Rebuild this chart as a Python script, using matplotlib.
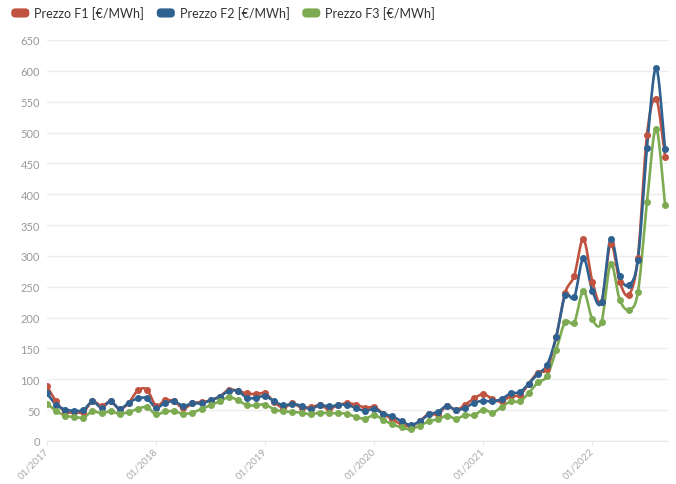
import numpy as np
import pandas as pd
import matplotlib
matplotlib.use("Agg")
import matplotlib.pyplot as plt
from matplotlib.patches import FancyBboxPatch, Patch
from matplotlib.legend_handler import HandlerPatch

# monthly data, 01/2017 - 09/2022
months = pd.date_range("2017-01-01", "2022-09-01", freq="MS")

prezzo_f1 = [89, 64, 47, 47, 47, 64, 57, 64, 52, 62, 82, 83,
             57, 66, 64, 53, 61, 63, 66, 72, 83, 81, 77, 76,
             77, 63, 54, 61, 54, 55, 58, 52, 58, 61, 59, 54,
             55, 44, 35, 27, 24, 32, 44, 43, 57, 50, 59, 69,
             76, 68, 64, 73, 74, 93, 111, 117, 168, 240, 268, 327,
             258, 225, 320, 258, 237, 297, 496, 555, 461]
prezzo_f2 = [77, 59, 51, 49, 50, 64, 54, 64, 52, 62, 69, 69,
             54, 62, 64, 57, 61, 61, 66, 72, 81, 81, 70, 70,
             73, 64, 58, 60, 57, 52, 58, 56, 58, 59, 53, 49,
             52, 44, 40, 32, 26, 32, 43, 47, 57, 50, 54, 62,
             65, 64, 68, 77, 79, 93, 109, 123, 168, 236, 233, 296,
             243, 225, 328, 267, 253, 294, 475, 604, 473]
prezzo_f3 = [60, 49, 41, 39, 38, 48, 45, 48, 44, 47, 52, 55,
             43, 48, 48, 44, 46, 52, 58, 64, 71, 66, 58, 58,
             59, 51, 48, 47, 46, 43, 46, 45, 45, 44, 39, 36,
             42, 34, 27, 22, 19, 25, 32, 35, 41, 36, 42, 42,
             51, 46, 55, 64, 64, 78, 95, 105, 147, 193, 192, 243,
             197, 193, 287, 229, 213, 241, 387, 506, 383]

series = [
    ("Prezzo F1 [€/MWh]", prezzo_f1, "#c0533f"),
    ("Prezzo F2 [€/MWh]", prezzo_f2, "#2f6190"),
    ("Prezzo F3 [€/MWh]", prezzo_f3, "#7dab52"),
]

plt.rcParams["font.family"] = ["Lato", "DejaVu Sans"]


def smooth(x, y, n=12):
    # cubic hermite through the points, catmull-rom tangents
    x = np.asarray(x, float)
    y = np.asarray(y, float)
    m = np.zeros_like(y)
    m[1:-1] = (y[2:] - y[:-2]) / (x[2:] - x[:-2])
    m[0] = (y[1] - y[0]) / (x[1] - x[0])
    m[-1] = (y[-1] - y[-2]) / (x[-1] - x[-2])
    xs, ys = [], []
    for i in range(len(x) - 1):
        h = x[i + 1] - x[i]
        t = np.linspace(0, 1, n, endpoint=False)
        h00 = 2 * t**3 - 3 * t**2 + 1
        h10 = t**3 - 2 * t**2 + t
        h01 = -2 * t**3 + 3 * t**2
        h11 = t**3 - t**2
        xs.append(x[i] + t * h)
        ys.append(h00 * y[i] + h10 * h * m[i] + h01 * y[i + 1] + h11 * h * m[i + 1])
    xs.append([x[-1]])
    ys.append([y[-1]])
    return np.concatenate(xs), np.concatenate(ys)


class RoundHandler(HandlerPatch):
    def create_artists(self, legend, orig_handle, xdescent, ydescent,
                       width, height, fontsize, trans):
        p = FancyBboxPatch((-xdescent, -ydescent), width, height,
                           boxstyle="round,pad=0,rounding_size=3",
                           facecolor=orig_handle.get_facecolor(),
                           edgecolor="none", transform=trans)
        return [p]


fig = plt.figure(figsize=(6.76, 4.85), dpi=100)
ax = fig.add_axes([0.0695, 0.0887, 0.9185, 0.8268])

x = np.arange(len(months))
for name, vals, col in series:
    sx, sy = smooth(x, vals)
    ax.plot(sx, sy, color=col, lw=1.9, zorder=3)
    ax.plot(x, vals, "o", color=col, ms=4.0, zorder=4)

ax.set_ylim(0, 650)
ax.set_xlim(0, 68.3)
ax.set_yticks(np.arange(0, 651, 50))
ax.yaxis.grid(True, color="#ececec", lw=1)
ax.set_axisbelow(True)

year_starts = [i for i, d in enumerate(months) if d.month == 1]
ax.set_xticks(year_starts)
ax.set_xticklabels([months[i].strftime("%m/%Y") for i in year_starts],
                   rotation=45, ha="right", va="center",
                   rotation_mode="anchor")

for s in ["top", "right", "left"]:
    ax.spines[s].set_visible(False)
ax.spines["bottom"].set_color("#e6e6e6")
ax.tick_params(axis="y", length=0, labelsize=8, labelcolor="#999999", pad=5)
ax.tick_params(axis="x", length=3, color="#e6e6e6", labelsize=7.2,
               labelcolor="#a8a8a8", pad=3)

handles = [Patch(facecolor=c, label=n) for n, _, c in series]
fig.legend(handles=handles, loc="upper left", bbox_to_anchor=(0.0, 1.008),
           ncol=3, frameon=False, fontsize=9, labelcolor="#333333",
           handler_map={Patch: RoundHandler()}, handlelength=1.45,
           handleheight=0.75, handletextpad=0.4, columnspacing=1.0)

fig.savefig("out.png", dpi=100)
